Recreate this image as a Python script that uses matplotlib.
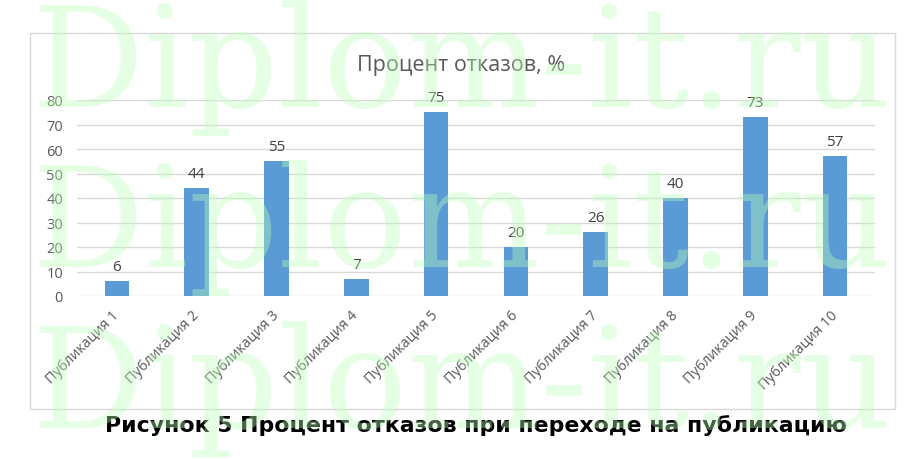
import matplotlib
matplotlib.use("Agg")
import matplotlib.pyplot as plt
from matplotlib.patches import Rectangle

categories = ["Публикация %d" % i for i in range(1, 11)]
values = [6, 44, 55, 7, 75, 20, 26, 40, 73, 57]
yticks = [0, 10, 20, 30, 40, 50, 60, 70, 80]
title = "Процент отказов, %"
caption = "Рисунок 5 Процент отказов при переходе на публикацию"
watermark = "Diplom-it.ru"

W, H = 923, 460
fig = plt.figure(figsize=(W / 100, H / 100), dpi=100)
fig.patch.set_facecolor("white")

# chart frame
fig.patches.append(Rectangle((30 / W, 1 - 410 / H), 865 / W, 376 / H,
                             transform=fig.transFigure, fill=False,
                             edgecolor="#D9D9D9", linewidth=1))

ax = fig.add_axes([77 / W, 1 - 297 / H, 798 / W, 196 / H])
xx = range(len(values))
ax.bar(xx, values, width=0.31, color="#5B9BD5", zorder=2)
ax.set_xlim(-0.5, len(values) - 0.5)
ax.set_ylim(0, 80)
ax.set_yticks(yticks)
ax.grid(axis="y", color="#D9D9D9", linewidth=1, zorder=0)
for s in ["top", "right", "left", "bottom"]:
    ax.spines[s].set_visible(False)
ax.tick_params(axis="both", length=0, colors="#595959")
ax.tick_params(axis="y", pad=10, labelsize=10.5)
for lbl in ax.get_yticklabels():
    lbl.set_family("Open Sans")

ax.set_xticks(list(xx))
ax.set_xticklabels(categories, rotation=45, ha="right", va="center",
                   rotation_mode="anchor", fontsize=10.3, family="Open Sans",
                   color="#595959")
ax.tick_params(axis="x", pad=12)

for x, v in zip(xx, values):
    ax.annotate(str(v), (x, v), xytext=(0, 5), textcoords="offset points",
                ha="center", va="bottom", fontsize=11, family="Open Sans",
                color="#404040")

fig.text(461 / W, 1 - 65 / H, title, ha="center", va="center",
         fontsize=15.5, family="Open Sans", color="#595959")

fig.text(476 / W, 1 - 426 / H, caption, ha="center", va="center",
         fontsize=15.8, family="DejaVu Sans", weight="bold", color="black")

# watermark over everything
for yb in [107, 267, 428]:
    fig.text(31 / W, 1 - yb / H, watermark, ha="left", va="baseline",
             fontsize=101, family="DejaVu Serif", color=(187 / 255, 1, 187 / 255),
             alpha=0.38, zorder=10)

fig.savefig("out.png", dpi=100)
